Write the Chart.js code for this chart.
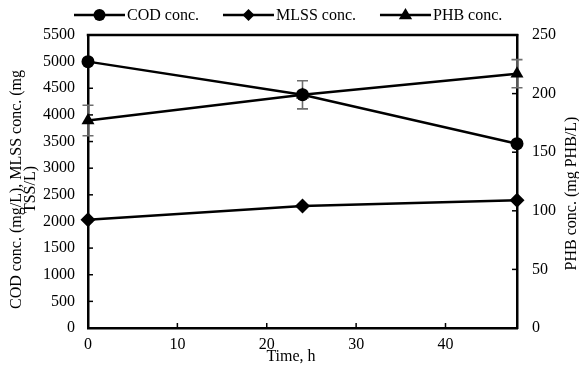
<!DOCTYPE html>
<html>
<head>
<meta charset="utf-8">
<script src="https://cdn.jsdelivr.net/npm/chart.js@4/dist/chart.umd.min.js"></script>
<style>
html,body{margin:0;padding:0;background:#fff;}
#wrap{width:579px;height:369px;position:relative;}
</style>
</head>
<body>
<div id="wrap"><canvas id="c" width="579" height="369"></canvas></div>
<script>
const timeH = [0, 24, 48];
const codConc = [5000, 4380, 3460];
const mlssConc = [2030, 2290, 2400];
const phbConc = [177, 199, 217];
const phbErr = [13, 12, 12];
const leftTicks = {min: 0, max: 5500, step: 500};
const rightTicks = {min: 0, max: 250, step: 50};
const xTicks = {min: 0, max: 48, step: 10};
const seriesLabels = ['COD conc.', 'MLSS conc.', 'PHB conc.'];
const leftTitle = ['COD conc. (mg/L), MLSS conc. (mg', 'TSS/L)'];
const rightTitle = 'PHB conc. (mg PHB/L)';
const xTitle = 'Time, h';

const FONT = '"Liberation Serif", "Times New Roman", serif';

function pts(ys){ return timeH.map((t,i)=>({x:t,y:ys[i]})); }

function marker(ctx, style, x, y, r){
  ctx.beginPath();
  if (style === 'circle') { ctx.arc(x, y, r, 0, Math.PI*2); }
  else if (style === 'rectRot') { ctx.moveTo(x, y-r); ctx.lineTo(x+r, y); ctx.lineTo(x, y+r); ctx.lineTo(x-r, y); ctx.closePath(); }
  else if (style === 'triangle') { ctx.moveTo(x, y-r); ctx.lineTo(x+r*0.95, y+r*0.6); ctx.lineTo(x-r*0.95, y+r*0.6); ctx.closePath(); }
  ctx.fillStyle = '#000'; ctx.fill();
}

const decor = {
  id: 'decor',
  beforeDatasetsDraw(chart){
    const ctx = chart.ctx;
    const ys = chart.scales.y1, xs = chart.scales.x;
    ctx.save();
    ctx.strokeStyle = '#6e6e6e'; ctx.lineWidth = 1.6;
    timeH.forEach((t,i)=>{
      const px = xs.getPixelForValue(t);
      const top = ys.getPixelForValue(phbConc[i] + phbErr[i]);
      const bot = ys.getPixelForValue(phbConc[i] - phbErr[i]);
      ctx.beginPath();
      ctx.moveTo(px, top); ctx.lineTo(px, bot);
      ctx.moveTo(px-5.5, top); ctx.lineTo(px+5.5, top);
      ctx.moveTo(px-5.5, bot); ctx.lineTo(px+5.5, bot);
      ctx.stroke();
    });
    ctx.restore();
  },
  afterDraw(chart){
    const ctx = chart.ctx;
    const a = chart.chartArea;
    ctx.save();
    // top border
    ctx.strokeStyle = '#000'; ctx.lineWidth = 2.5;
    ctx.beginPath(); ctx.moveTo(a.left-1.25, a.top); ctx.lineTo(a.right+1.25, a.top); ctx.stroke();
    // inward ticks
    ctx.lineWidth = 1.5;
    const L = 5;
    chart.scales.y.ticks.forEach(t=>{
      const p = chart.scales.y.getPixelForValue(t.value);
      if (t.value === leftTicks.min || t.value === leftTicks.max) return;
      ctx.beginPath(); ctx.moveTo(a.left, p); ctx.lineTo(a.left+L, p); ctx.stroke();
    });
    chart.scales.y1.ticks.forEach(t=>{
      const p = chart.scales.y1.getPixelForValue(t.value);
      if (t.value === rightTicks.min || t.value === rightTicks.max) return;
      ctx.beginPath(); ctx.moveTo(a.right, p); ctx.lineTo(a.right-L, p); ctx.stroke();
    });
    chart.scales.x.ticks.forEach(t=>{
      const p = chart.scales.x.getPixelForValue(t.value);
      if (t.value === xTicks.min) return;
      ctx.beginPath(); ctx.moveTo(p, a.bottom); ctx.lineTo(p, a.bottom-L); ctx.stroke();
    });
    // titles
    ctx.fillStyle = '#000';
    ctx.font = '16px ' + FONT;
    ctx.textAlign = 'center'; ctx.textBaseline = 'middle';
    const cy = (a.top + a.bottom)/2 + 8;
    ctx.save(); ctx.translate(17, cy); ctx.rotate(-Math.PI/2); ctx.fillText(leftTitle[0], 0, 0); ctx.restore();
    ctx.save(); ctx.translate(31, cy); ctx.rotate(-Math.PI/2); ctx.fillText(leftTitle[1], 0, 0); ctx.restore();
    ctx.save(); ctx.translate(572, cy + 4); ctx.rotate(-Math.PI/2); ctx.fillText(rightTitle, 0, 0); ctx.restore();
    ctx.fillText(xTitle, 291, 357);
    // legend
    const styles = ['circle','rectRot','triangle'];
    const sizes = [6, 6, 7];
    let x = 74; const ly = 15;
    ctx.textAlign = 'left';
    seriesLabels.forEach((lab,i)=>{
      ctx.strokeStyle = '#000'; ctx.lineWidth = 2.5;
      ctx.beginPath(); ctx.moveTo(x, ly); ctx.lineTo(x+51, ly); ctx.stroke();
      marker(ctx, styles[i], x+25.5, ly, sizes[i]);
      ctx.fillStyle = '#000';
      ctx.fillText(lab, x+53, ly+1);
      x += 53 + ctx.measureText(lab).width + 24;
    });
    ctx.restore();
  }
};

const tickFont = {family: FONT, size: 16};
const plain = v => String(v);

new Chart(document.getElementById('c'), {
  type: 'line',
  data: {
    datasets: [
      {label: seriesLabels[0], data: pts(codConc), yAxisID: 'y', borderColor: '#000', backgroundColor: '#000', borderWidth: 2.5, pointStyle: 'circle', pointRadius: 6.5, pointBorderWidth: 0, clip: false},
      {label: seriesLabels[1], data: pts(mlssConc), yAxisID: 'y', borderColor: '#000', backgroundColor: '#000', borderWidth: 2.5, pointStyle: 'rectRot', pointRadius: 7.5, pointBorderWidth: 0, clip: false},
      {label: seriesLabels[2], data: pts(phbConc), yAxisID: 'y1', borderColor: '#000', backgroundColor: '#000', borderWidth: 2.5, pointStyle: 'triangle', pointRadius: 7.5, pointBorderWidth: 0, clip: false}
    ]
  },
  options: {
    responsive: false,
    animation: false,
    devicePixelRatio: 1,
    layout: {padding: {top: 35, left: 0, right: 0, bottom: 0}},
    plugins: {legend: {display: false}, tooltip: {enabled: false}},
    scales: {
      x: {
        type: 'linear', min: xTicks.min, max: xTicks.max,
        ticks: {stepSize: xTicks.step, font: tickFont, color: '#000', padding: 7, maxRotation: 0, callback: plain},
        grid: {display: false, drawTicks: false},
        border: {display: true, color: '#000', width: 2.5},
        afterBuildTicks(s){ s.ticks = s.ticks.filter(t => t.value % xTicks.step === 0); },
        afterFit(s){ s.height = 41; }
      },
      y: {
        type: 'linear', position: 'left', min: leftTicks.min, max: leftTicks.max,
        ticks: {stepSize: leftTicks.step, font: tickFont, color: '#000', padding: 13, callback: plain},
        grid: {display: false, drawTicks: false},
        border: {display: true, color: '#000', width: 2.5},
        afterFit(s){ s.width = 88; }
      },
      y1: {
        type: 'linear', position: 'right', min: rightTicks.min, max: rightTicks.max,
        ticks: {stepSize: rightTicks.step, font: tickFont, color: '#000', padding: 15, callback: plain},
        grid: {display: false, drawTicks: false},
        border: {display: true, color: '#000', width: 2.5},
        afterFit(s){ s.width = 62; }
      }
    }
  },
  plugins: [decor]
});
</script>
</body>
</html>
